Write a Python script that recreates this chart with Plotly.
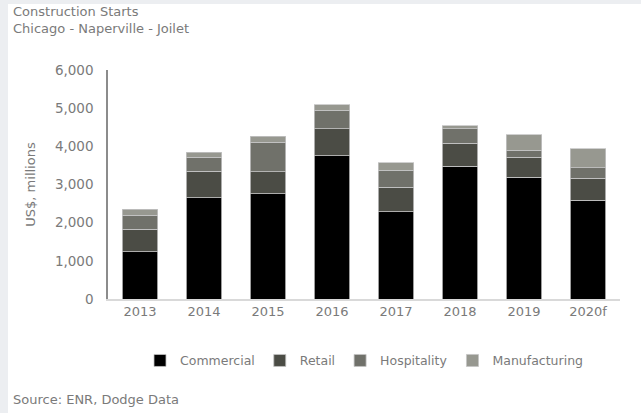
import plotly.graph_objects as go

years = ["2013", "2014", "2015", "2016", "2017", "2018", "2019", "2020f"]
commercial = [1240, 2650, 2760, 3750, 2290, 3480, 3185, 2590]
retail = [590, 700, 580, 705, 640, 600, 530, 570]
hospitality = [370, 370, 770, 485, 440, 375, 185, 280]
manufacturing = [150, 130, 160, 150, 200, 90, 410, 500]

series = [
    ("Commercial", commercial, "#000000"),
    ("Retail", retail, "#4b4c45"),
    ("Hospitality", hospitality, "#70716a"),
    ("Manufacturing", manufacturing, "#979890"),
]

FONT = "DejaVu Sans"
GRAY = "#7a7a7a"

fig = go.Figure()
for name, vals, col in series:
    fig.add_trace(go.Bar(
        x=years, y=vals, name=name,
        marker=dict(color=col, line=dict(color="#c4c4c4", width=0.8)),
    ))

fig.update_layout(
    barmode="stack",
    bargap=0.45,
    width=641, height=413,
    margin=dict(l=108, r=21, t=70, b=114),
    paper_bgcolor="white",
    plot_bgcolor="white",
    font=dict(family=FONT, size=13, color=GRAY),
    showlegend=True,
    legend=dict(
        orientation="h", x=0.5, xanchor="center", y=-0.27, yanchor="middle",
        font=dict(size=12.5, color=GRAY), traceorder="normal",
        itemwidth=30, bgcolor="rgba(0,0,0,0)",
    ),
    xaxis=dict(
        showline=True, linecolor="#d9d9d9", linewidth=1.5,
        ticks="", tickfont=dict(size=13, color=GRAY),
        showgrid=False,
    ),
    yaxis=dict(
        range=[0, 6000], dtick=1000, tickformat=",",
        showline=True, linecolor="#8c8c8c", linewidth=1.5,
        ticks="", ticklabelstandoff=10, showgrid=False, zeroline=False,
        tickfont=dict(size=13.5, color=GRAY),
        title=dict(text="US$, millions", font=dict(size=13, color=GRAY), standoff=16),
    ),
    annotations=[
        dict(text="Construction Starts<br>Chicago - Naperville - Joilet",
             xref="paper", yref="paper", x=-0.19, y=1.295,
             xanchor="left", yanchor="top", align="left", showarrow=False,
             font=dict(size=13, color=GRAY)),
        dict(text="Source: ENR, Dodge Data",
             xref="paper", yref="paper", x=-0.19, y=-0.44,
             xanchor="left", yanchor="middle", align="left", showarrow=False,
             font=dict(size=13, color=GRAY)),
    ],
    shapes=[
        dict(type="rect", xref="paper", yref="paper", x0=-0.22, x1=-0.1953,
             y0=-0.6, y1=1.31, fillcolor="#eceef1", line=dict(width=0), layer="below"),
        dict(type="rect", xref="paper", yref="paper", x0=-0.22, x1=1.1,
             y0=1.288, y1=1.31, fillcolor="#eceef1", line=dict(width=0), layer="below"),
    ],
)

fig.write_html("out.html")
